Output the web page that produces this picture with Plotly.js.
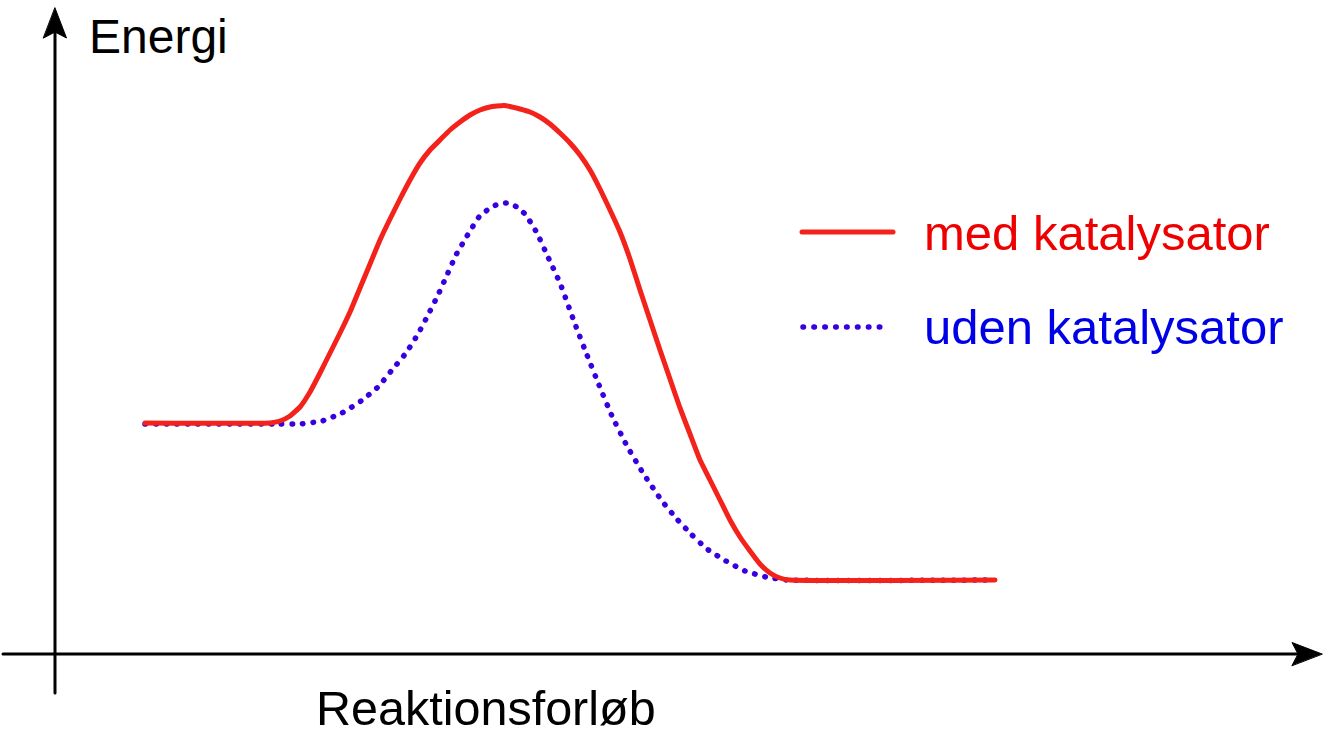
<!DOCTYPE html>
<html>
<head>
<meta charset="utf-8">
<script src="https://cdn.plot.ly/plotly-3.0.1.min.js"></script>
<style>
  html, body { margin: 0; padding: 0; background: #fff; }
  #chart { width: 1337px; height: 737px; }
  /* round ends so the dotted line gets round dots */
  .js-line, .shapelayer path { stroke-linecap: round; }
</style>
</head>
<body>
<div id="chart"></div>
<script>
"use strict"
// reaktionsforløb (x) og energi (y)
let xMed = [9.0, 21.5, 22.5, 23.5, 24.5, 25.5, 26.5, 27.5, 28.5, 29.5, 30.5, 31.5, 32.5, 33.5, 34.5,
    35.5, 36.5, 37.5, 38.5, 39.5, 40.5, 41.5, 42.5, 43.5, 44.9, 46.5, 47.5, 48.5, 49.5, 50.5, 51.5,
    52.5, 53.5, 54.5, 55.5, 56.5, 57.5, 58.5, 59.5, 60.5, 61.5, 62.5, 63.5, 64.5, 65.5, 66.5, 67.5,
    68.5, 69.5, 70.5, 71.5, 72.5, 73.5, 94.0];
let yMed = [23.1, 23.1, 23.3, 23.8, 24.7, 26.2, 28.1, 30.1, 32.1, 34.2, 36.6, 39.0, 41.4, 43.5, 45.5,
    47.4, 49.1, 50.4, 51.4, 52.4, 53.2, 53.9, 54.4, 54.7, 54.85, 54.5, 54.2, 53.7, 53.0, 52.1, 51.1,
    49.9, 48.4, 46.5, 44.4, 42.2, 39.5, 36.4, 33.4, 30.4, 27.5, 24.6, 22.0, 19.4, 17.4, 15.4, 13.4,
    11.7, 10.3, 9.0, 8.1, 7.6, 7.4, 7.4];

let xUden = [9.0, 22.5, 24.5, 26.7, 28.7, 30.6, 32.3, 33.7, 35.1, 36.3, 37.3, 38.3, 39.2, 40.1, 41.2,
    42.4, 43.5, 44.1, 45.2, 46.2, 47.0, 47.6, 48.2, 49.3, 50.5, 52.0, 53.2, 54.4, 55.7, 57.2, 58.8,
    60.7, 62.1, 63.6, 65.2, 67.1, 69.0, 71.1, 73.2, 94.0];
let yUden = [23.0, 23.0, 23.0, 23.3, 24.1, 25.3, 26.7, 28.4, 30.1, 32.0, 33.9, 35.9, 37.9, 39.9, 41.8,
    43.7, 44.6, 44.9, 45.1, 44.7, 44.0, 43.1, 42.1, 39.7, 37.1, 33.0, 29.9, 26.9, 23.8, 20.8, 18.1,
    15.3, 13.6, 12.0, 10.5, 9.3, 8.3, 7.7, 7.4, 7.4];

let seriesNames = ['med katalysator', 'uden katalysator'];
let axisTitles = ['Reaktionsforløb', 'Energi'];

let redLine = '#f3221b';
let blueDots = '#3800e0';
let fontFam = 'Liberation Sans, Arial, sans-serif';

// akseudstrækning (samme enheder som data)
let xMin = -5.5, xMax = 128.2, yMin = -8.3, yMax = 65.4;
let xAxisFrom = -5.2, xAxisTip = 126.7;
let yAxisFrom = -3.9, yAxisTip = 64.6;
let headLen = 3.0, headHalf = 1.15, notch = 0.6;

var trace1 = {
    x: xMed,
    y: yMed,
    name: seriesNames[0],
    mode: 'lines',
    hoverinfo: 'none',
    line: { color: redLine, width: 5, shape: 'spline', smoothing: 0.4 }
};

var trace2 = {
    x: xUden,
    y: yUden,
    name: seriesNames[1],
    mode: 'lines',
    hoverinfo: 'none',
    line: { color: blueDots, width: 5.5, dash: '0.5px,10px', shape: 'spline', smoothing: 0.4 }
};

var data = [trace2, trace1];

var rightHead = 'M' + xAxisTip + ',0 L' + (xAxisTip - headLen) + ',' + headHalf +
    ' L' + (xAxisTip - headLen + notch) + ',0 L' + (xAxisTip - headLen) + ',' + (-headHalf) + ' Z';
var topHead = 'M0,' + yAxisTip + ' L' + headHalf + ',' + (yAxisTip - headLen) +
    ' L0,' + (yAxisTip - headLen + notch) + ' L' + (-headHalf) + ',' + (yAxisTip - headLen) + ' Z';

var layout = {
    width: 1337,
    height: 737,
    margin: { l: 0, r: 0, t: 0, b: 0 },
    paper_bgcolor: '#fff',
    plot_bgcolor: '#fff',
    showlegend: false,
    xaxis: { range: [xMin, xMax], visible: false, fixedrange: true },
    yaxis: { range: [yMin, yMax], visible: false, fixedrange: true },
    shapes: [
        { type: 'line', xref: 'x', yref: 'y', x0: xAxisFrom, x1: xAxisTip - headLen + 0.8, y0: 0, y1: 0,
          line: { color: '#000', width: 3 } },
        { type: 'line', xref: 'x', yref: 'y', x0: 0, x1: 0, y0: yAxisFrom, y1: yAxisTip - headLen + 0.8,
          line: { color: '#000', width: 3 } },
        { type: 'path', xref: 'x', yref: 'y', path: rightHead, fillcolor: '#000', line: { color: '#000', width: 1 } },
        { type: 'path', xref: 'x', yref: 'y', path: topHead, fillcolor: '#000', line: { color: '#000', width: 1 } },
        // signaturforklaring
        { type: 'line', xref: 'paper', yref: 'paper', x0: 802 / 1337, x1: 893 / 1337,
          y0: 1 - 232 / 737, y1: 1 - 232 / 737, line: { color: redLine, width: 5 } },
        { type: 'line', xref: 'paper', yref: 'paper', x0: 803 / 1337, x1: 889 / 1337,
          y0: 1 - 327 / 737, y1: 1 - 327 / 737, line: { color: blueDots, width: 5.5, dash: '0.5px,10.4px' } }
    ],
    annotations: [
        { text: axisTitles[1], xref: 'paper', yref: 'paper', x: 87 / 1337, y: 1 - 37 / 737,
          xanchor: 'left', yanchor: 'middle', showarrow: false,
          font: { family: fontFam, size: 48, color: '#000' } },
        { text: axisTitles[0], xref: 'paper', yref: 'paper', x: 314 / 1337, y: 0,
          xanchor: 'left', yanchor: 'bottom', showarrow: false,
          font: { family: fontFam, size: 48.5, color: '#000' } },
        { text: seriesNames[0], xref: 'paper', yref: 'paper', x: 922 / 1337, y: 1 - 233 / 737,
          xanchor: 'left', yanchor: 'middle', showarrow: false,
          font: { family: fontFam, size: 49, color: '#ee0000' } },
        { text: seriesNames[1], xref: 'paper', yref: 'paper', x: 922 / 1337, y: 1 - 327 / 737,
          xanchor: 'left', yanchor: 'middle', showarrow: false,
          font: { family: fontFam, size: 49, color: '#0000e6' } }
    ]
};

Plotly.newPlot('chart', data, layout, { displayModeBar: false, staticPlot: true });
</script>
</body>
</html>
